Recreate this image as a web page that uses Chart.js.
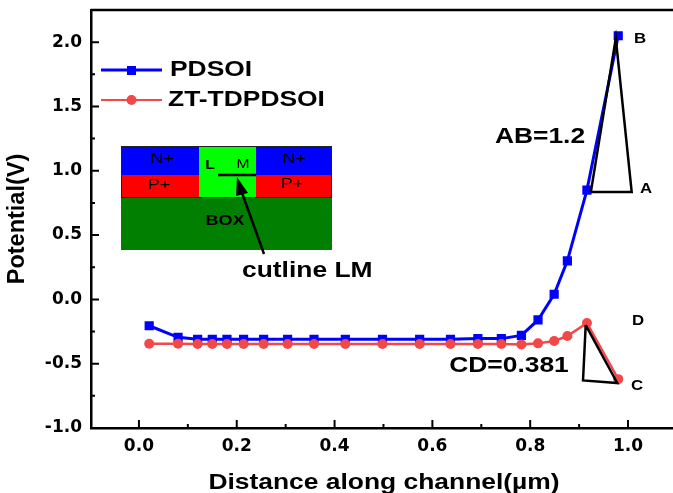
<!DOCTYPE html>
<html>
<head>
<meta charset="utf-8">
<style>
html, body { margin: 0; padding: 0; background: #fff; overflow: hidden; }
canvas { display: block; }
</style>
<script src="https://cdn.jsdelivr.net/npm/chart.js@4/dist/chart.umd.min.js"></script>
</head>
<body>
<!-- the reference crops the frame at its right edge, so the canvas runs a little past the window -->
<canvas id="chart" width="680" height="493"></canvas>
<script>
const seriesNames = ['PDSOI', 'ZT-TDPDSOI'];
const distance = [0.021, 0.08, 0.12, 0.15, 0.18, 0.214, 0.255, 0.304, 0.358, 0.422, 0.498, 0.574, 0.637, 0.693, 0.741, 0.782, 0.816, 0.849, 0.876, 0.916, 0.98];
const pdsoi = [-0.205, -0.295, -0.31, -0.31, -0.31, -0.31, -0.31, -0.31, -0.31, -0.31, -0.31, -0.31, -0.31, -0.305, -0.305, -0.28, -0.16, 0.04, 0.3, 0.85, 2.05];
const ztTdpdsoi = [-0.345, -0.345, -0.347, -0.347, -0.347, -0.347, -0.347, -0.347, -0.347, -0.347, -0.347, -0.347, -0.347, -0.347, -0.347, -0.35, -0.342, -0.324, -0.285, -0.184, -0.62];

const triangleABx = [0.924, 1.0075, 0.975, 0.924];
const triangleABy = [0.834, 0.834, 2.03, 0.834];
const triangleCDx = [0.9135, 0.908, 0.978, 0.9135];
const triangleCDy = [-0.2, -0.63, -0.65, -0.2];

const xMajor = [0, 0.2, 0.4, 0.6, 0.8, 1.0];
const xMinor = [0.1, 0.3, 0.5, 0.7, 0.9];
const yMajor = [-1, -0.5, 0, 0.5, 1, 1.5, 2];
const yMinor = [-0.75, -0.25, 0.25, 0.75, 1.25, 1.75];

const BLUE = '#0000ff';
const RED = '#f24848';
const FONT = '"Liberation Sans", Arial, sans-serif';
const TICK_FONT = '"DejaVu Sans", sans-serif';
// the reference is a picture stretched sideways, so its text is wider than the font
const STRETCH = 1.2;

function points(xs, ys) {
    return xs.map((x, i) => ({ x: x, y: ys[i] }));
}

function text(ctx, str, x, y, size, bold, align, stretch) {
    ctx.save();
    ctx.translate(x, y);
    ctx.scale(stretch || STRETCH, 1);
    ctx.font = (bold ? 'bold ' : '') + size + 'px ' + FONT;
    ctx.fillStyle = '#000';
    ctx.textAlign = align || 'center';
    ctx.textBaseline = 'middle';
    ctx.fillText(str, 0, 0);
    ctx.restore();
}

function drawInset(ctx) {
    ctx.fillStyle = '#007f00';
    ctx.fillRect(121, 198, 211, 52);
    ctx.fillStyle = '#00ff00';
    ctx.fillRect(199, 146, 57, 52);
    ctx.fillStyle = '#0000ff';
    ctx.fillRect(121, 146, 78, 29);
    ctx.fillRect(256, 146, 76, 29);
    ctx.fillStyle = '#ff0000';
    ctx.fillRect(122, 175, 77, 23);
    ctx.fillRect(256, 175, 75, 23);
    ctx.strokeStyle = '#222';
    ctx.lineWidth = 1;
    ctx.strokeRect(121.5, 146.5, 210, 51);

    text(ctx, 'N+', 162, 159, 15, false);
    text(ctx, 'P+', 159, 185, 15, false);
    text(ctx, 'N+', 294, 159, 15, false);
    text(ctx, 'P+', 292, 184, 15, false);
    text(ctx, 'L', 210, 165, 13, true);
    text(ctx, 'M', 243, 164, 13, false);
    text(ctx, 'BOX', 225, 221, 15, true);

    ctx.strokeStyle = '#000';
    ctx.lineWidth = 2.5;
    ctx.beginPath();
    ctx.moveTo(218, 175);
    ctx.lineTo(256, 175);
    ctx.stroke();

    // arrow to the cutline
    ctx.beginPath();
    ctx.moveTo(264, 254);
    ctx.lineTo(241, 190);
    ctx.stroke();
    ctx.fillStyle = '#000';
    ctx.beginPath();
    ctx.moveTo(237, 177);
    ctx.lineTo(248, 193);
    ctx.lineTo(236, 196);
    ctx.closePath();
    ctx.fill();

    text(ctx, 'cutline LM', 242, 271, 22, true, 'left');
}

function drawLegend(ctx) {
    ctx.lineWidth = 3;
    ctx.strokeStyle = BLUE;
    ctx.beginPath();
    ctx.moveTo(101, 70);
    ctx.lineTo(162, 70);
    ctx.stroke();
    ctx.fillStyle = BLUE;
    ctx.fillRect(127, 66, 9, 9);

    ctx.lineWidth = 2;
    ctx.strokeStyle = RED;
    ctx.beginPath();
    ctx.moveTo(101, 100);
    ctx.lineTo(162, 100);
    ctx.stroke();
    ctx.fillStyle = RED;
    ctx.beginPath();
    ctx.arc(131.5, 100, 5, 0, Math.PI * 2);
    ctx.fill();

    text(ctx, seriesNames[0], 170, 70, 22, true, 'left');
    text(ctx, seriesNames[1], 168, 100, 22, true, 'left');
}

const decorations = {
    id: 'decorations',
    afterDraw(chart) {
        const ctx = chart.ctx;
        const area = chart.chartArea;
        const sx = chart.scales.x;
        const sy = chart.scales.y;
        ctx.save();

        // ticks point inward, the axis frame is open at the right
        ctx.strokeStyle = '#000';
        ctx.lineWidth = 2;
        ctx.beginPath();
        xMajor.forEach(v => { const p = sx.getPixelForValue(v); ctx.moveTo(p, area.bottom); ctx.lineTo(p, area.bottom - 8); });
        xMinor.forEach(v => { const p = sx.getPixelForValue(v); ctx.moveTo(p, area.bottom); ctx.lineTo(p, area.bottom - 4); });
        yMajor.forEach(v => { const p = sy.getPixelForValue(v); ctx.moveTo(area.left, p); ctx.lineTo(area.left + 8, p); });
        yMinor.forEach(v => { const p = sy.getPixelForValue(v); ctx.moveTo(area.left, p); ctx.lineTo(area.left + 4, p); });
        ctx.stroke();

        ctx.lineWidth = 2.5;
        ctx.beginPath();
        ctx.moveTo(area.left, area.top);
        ctx.lineTo(area.right, area.top);
        ctx.stroke();

        drawLegend(ctx);
        drawInset(ctx);

        text(ctx, 'B', 640, 39, 14, true);
        text(ctx, 'A', 646, 189, 14, true);
        text(ctx, 'D', 638, 321, 14, true);
        text(ctx, 'C', 637, 386, 14, true);
        text(ctx, 'AB=1.2', 540, 137, 22, true);
        text(ctx, 'CD=0.381', 509, 366, 22, true);
        text(ctx, 'Distance along channel(µm)', 384, 483, 22, true, 'center', 1.2);
        ctx.restore();
    }
};

new Chart(document.getElementById('chart'), {
    type: 'line',
    data: {
        datasets: [
            { data: points(triangleABx, triangleABy), borderColor: '#000', borderWidth: 2.5, pointRadius: 0, tension: 0 },
            { data: points(triangleCDx, triangleCDy), borderColor: '#000', borderWidth: 2.5, pointRadius: 0, tension: 0 },
            { label: seriesNames[1], data: points(distance, ztTdpdsoi), borderColor: RED, backgroundColor: RED, borderWidth: 2.5, pointStyle: 'circle', pointRadius: 5, pointBorderWidth: 0, tension: 0 },
            { label: seriesNames[0], data: points(distance, pdsoi), borderColor: BLUE, backgroundColor: BLUE, borderWidth: 3, pointStyle: 'rect', pointRadius: 6.5, pointBorderWidth: 0, tension: 0 }
        ]
    },
    options: {
        responsive: false,
        animation: false,
        layout: { padding: { top: 10, right: 0, left: 0, bottom: 0 } },
        plugins: { legend: { display: false }, tooltip: { enabled: false } },
        scales: {
            x: {
                type: 'linear',
                min: -0.098,
                max: 1.093,
                afterBuildTicks: s => { s.ticks = xMajor.map(v => ({ value: v })); },
                afterFit: s => { s.height = 65; s.paddingLeft = 0; s.paddingRight = 0; },
                grid: { drawOnChartArea: false, drawTicks: false },
                border: { color: '#000', width: 2.5 },
                ticks: {
                    color: '#000',
                    padding: 8,
                    maxRotation: 0,
                    autoSkip: false,
                    font: { family: TICK_FONT, size: 17, weight: 'bold' },
                    callback: v => v.toFixed(1)
                }
            },
            y: {
                type: 'linear',
                min: -1,
                max: 2.25,
                afterBuildTicks: s => { s.ticks = yMajor.map(v => ({ value: v })); },
                afterFit: s => { s.width = 91; s.paddingTop = 0; s.paddingBottom = 0; },
                grid: { drawOnChartArea: false, drawTicks: false },
                border: { color: '#000', width: 2.5 },
                ticks: {
                    color: '#000',
                    padding: 9,
                    autoSkip: false,
                    font: { family: TICK_FONT, size: 17, weight: 'bold' },
                    callback: v => v.toFixed(1)
                },
                title: {
                    display: true,
                    text: 'Potential(V)',
                    color: '#000',
                    padding: { top: 3, bottom: 0 },
                    font: { family: FONT, size: 23.5, weight: 'bold' }
                }
            }
        }
    },
    plugins: [decorations]
});
</script>
</body>
</html>
